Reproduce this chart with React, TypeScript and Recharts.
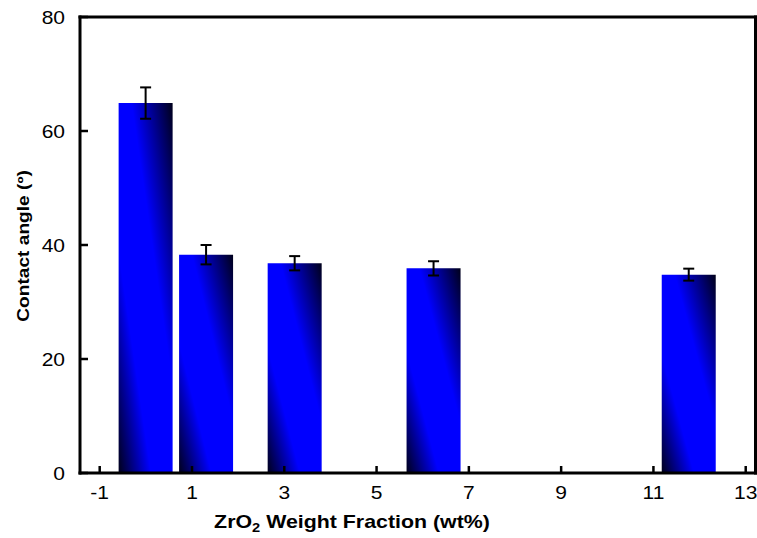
import React from "react";
import { ComposedChart, Bar, XAxis, YAxis, ErrorBar, ReferenceLine } from "recharts";

const fractions = [0, 1.31, 3.23, 6.24, 11.77];
const angles = [64.9, 38.3, 36.8, 35.9, 34.8];
const errors = [2.75, 1.7, 1.25, 1.25, 1.05];
const xTicks = [-1, 1, 3, 5, 7, 9, 11, 13];
const yTicks = [0, 20, 40, 60, 80];
const xDomain: [number, number] = [-1.427, 13.212];
const yDomain: [number, number] = [0, 80];

const data = fractions.map((f, i) => ({ x: f, y: angles[i], err: errors[i] }));

const FONT = "'Liberation Sans', Arial, sans-serif";

const XTick = (props: any) => {
  const { x, y, payload } = props;
  return (
    <g>
      <line x1={x} x2={x} y1={y} y2={y - 7} stroke="#000" strokeWidth={2.5} />
      <text
        transform={`translate(${x},${y + 26}) scale(1.2,1)`}
        textAnchor="middle"
        fontFamily={FONT}
        fontSize={17.5}
        fill="#000"
      >
        {payload.value}
      </text>
    </g>
  );
};

const YTick = (props: any) => {
  const { x, y, payload } = props;
  return (
    <g>
      <line x1={x} x2={x + 8} y1={y} y2={y} stroke="#000" strokeWidth={2.5} />
      <text
        transform={`translate(${x - 15},${y + 6.5}) scale(1.2,1)`}
        textAnchor="end"
        fontFamily={FONT}
        fontSize={17.5}
        fill="#000"
      >
        {payload.value}
      </text>
    </g>
  );
};

const XTitle = () => (
  <text
    transform="translate(352,528) scale(1.22,1)"
    textAnchor="middle"
    fontFamily={FONT}
    fontWeight="bold"
    fontSize={17.5}
    fill="#000"
  >
    ZrO
    <tspan fontSize={12} dy={4}>2</tspan>
    <tspan dy={-4}> Weight Fraction (wt%)</tspan>
  </text>
);

const YTitle = () => (
  <text
    transform="translate(29,246) rotate(-90) scale(1.16,1)"
    textAnchor="middle"
    fontFamily={FONT}
    fontWeight="bold"
    fontSize={16.5}
    fill="#000"
  >
    Contact angle (º)
  </text>
);

export default function App() {
  return (
    <div style={{ position: "absolute", left: 0, top: 0, width: 757, height: 538, background: "#fff" }}>
      <ComposedChart
        width={757}
        height={538}
        data={data}
        margin={{ top: 17, right: 1.5, bottom: 0, left: 0 }}
      >
        <defs>
          <linearGradient id="barGrad" x1="0" y1="1" x2="1" y2="0">
            <stop offset="0" stopColor="#00001a" />
            <stop offset="0.3" stopColor="#0000ff" />
            <stop offset="0.62" stopColor="#0000ff" />
            <stop offset="1" stopColor="#00001a" />
          </linearGradient>
        </defs>
        <XAxis
          dataKey="x"
          type="number"
          domain={xDomain}
          allowDataOverflow
          ticks={xTicks}
          interval={0}
          height={65}
          tickSize={0}
          tickMargin={0}
          tickLine={false}
          tick={<XTick />}
          axisLine={{ stroke: "#000", strokeWidth: 3, strokeLinecap: "square" }}
          label={<XTitle />}
        />
        <YAxis
          type="number"
          domain={yDomain}
          allowDataOverflow
          ticks={yTicks}
          interval={0}
          width={80}
          tickSize={0}
          tickMargin={0}
          tickLine={false}
          tick={<YTick />}
          axisLine={{ stroke: "#000", strokeWidth: 3, strokeLinecap: "square" }}
          label={<YTitle />}
        />
        <ReferenceLine y={yDomain[1]} stroke="#000" strokeWidth={3} strokeLinecap="square" ifOverflow="visible" />
        <ReferenceLine x={xDomain[1]} stroke="#000" strokeWidth={3} strokeLinecap="square" ifOverflow="visible" />
        <Bar dataKey="y" barSize={54} fill="url(#barGrad)" isAnimationActive={false}>
          <ErrorBar dataKey="err" direction="y" width={5.5} stroke="#000" strokeWidth={2} />
        </Bar>
      </ComposedChart>
    </div>
  );
}
